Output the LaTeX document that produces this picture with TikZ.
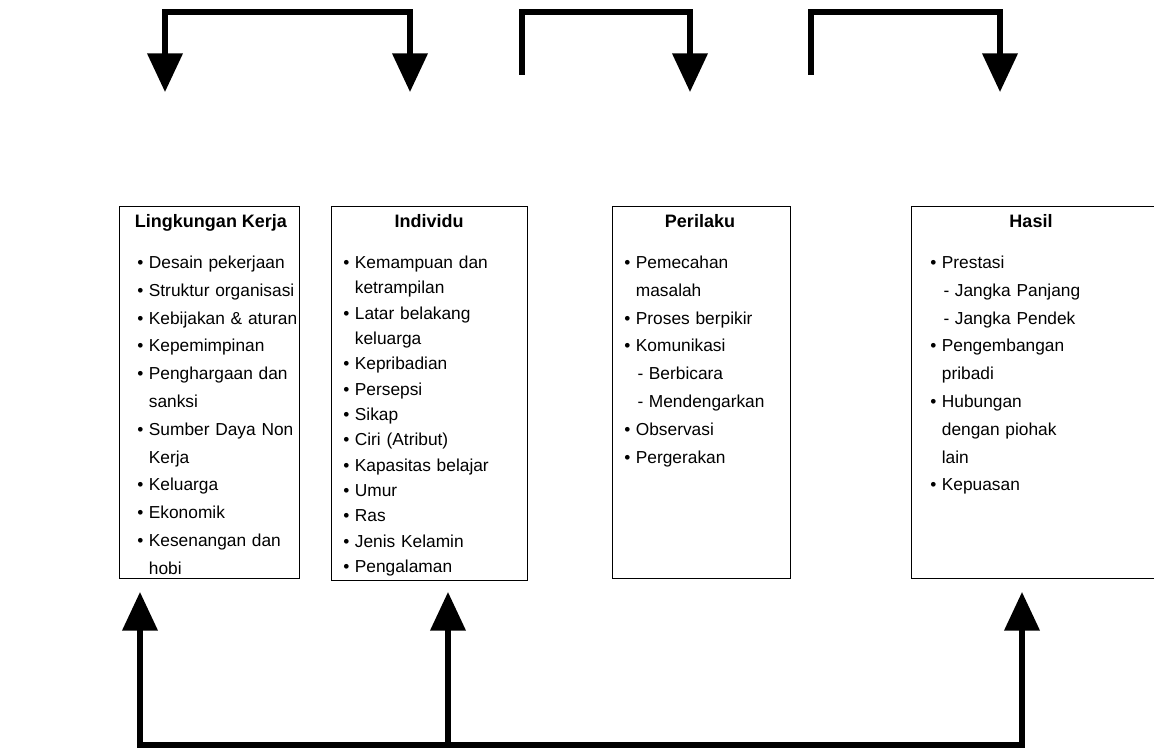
\documentclass[tikz,border=0pt]{standalone}
\usepackage{fontspec}
\setmainfont{Liberation Sans}
\usetikzlibrary{arrows.meta}
\newcommand\bul{\makebox[8.7pt][l]{\textbullet}}
\newcommand\ind{\hspace*{8.7pt}}
\newcommand\subi{\hspace*{10pt}-\hspace*{0.32em}}
\begin{document}
\begin{tikzpicture}[x=0.75pt,y=-0.75pt,
  box/.style={draw,line width=1.1pt,anchor=north west,inner sep=0pt,minimum height=279pt},
  ttl/.style={font=\bfseries\fontsize{13.5pt}{16pt}\selectfont,anchor=base,inner sep=0pt},
  lst/.style={anchor=north west,inner sep=0pt,align=left,text width=190pt},
  conn/.style={line width=3.8pt},
  arr/.style={-{Triangle[width=26pt,length=29pt]}},
  arrb/.style={{Triangle[width=26pt,length=29pt]}-{Triangle[width=26pt,length=29pt]}}
]
\clip (0,0) rectangle (1154,755);
% boxes
\node[box,minimum width=135pt] (b1) at (119,206) {};
\node[box,minimum width=147pt,minimum height=280.5pt] (b2) at (331,206) {};
\node[box,minimum width=133.5pt] (b3) at (612,206) {};
\node[box,minimum width=200pt] (b4) at (911,206) {};
% titles
\node[ttl] (h1) at (211,228) {Lingkungan Kerja};
\node[ttl] (h2) at (429,228) {Individu};
\node[ttl] (h3) at (700,228) {Perilaku};
\node[ttl] (h4) at (1031,228) {Hasil};
% lists
\node[lst,font=\fontsize{13pt}{20.85pt}\selectfont] (l1) at (137,255) {\rule{0pt}{10pt}\bul Desain pekerjaan\\
\bul Struktur organisasi\\
\bul Kebijakan \& aturan\\
\bul Kepemimpinan\\
\bul Penghargaan dan\\
\ind sanksi\\
\bul Sumber Daya Non\\
\ind Kerja\\
\bul Keluarga\\
\bul Ekonomik\\
\bul Kesenangan dan\\
\ind hobi};
\node[lst,font=\fontsize{13pt}{19pt}\selectfont] (l2) at (343,255) {\rule{0pt}{10pt}\bul Kemampuan dan\\
\ind ketrampilan\\
\bul Latar belakang\\
\ind keluarga\\
\bul Kepribadian\\
\bul Persepsi\\
\bul Sikap\\
\bul Ciri (Atribut)\\
\bul Kapasitas belajar\\
\bul Umur\\
\bul Ras\\
\bul Jenis Kelamin\\
\bul Pengalaman};
\node[lst,font=\fontsize{13pt}{20.85pt}\selectfont] (l3) at (624,255) {\rule{0pt}{10pt}\bul Pemecahan\\
\ind masalah\\
\bul Proses berpikir\\
\bul Komunikasi\\
\subi Berbicara\\
\subi Mendengarkan\\
\bul Observasi\\
\bul Pergerakan};
\node[lst,font=\fontsize{13pt}{20.85pt}\selectfont] (l4) at (930,255) {\rule{0pt}{10pt}\bul Prestasi\\
\subi Jangka Panjang\\
\subi Jangka Pendek\\
\bul Pengembangan\\
\ind pribadi\\
\bul Hubungan\\
\ind dengan piohak\\
\ind lain\\
\bul Kepuasan};
% top connectors
\coordinate (t1a) at (165,92);
\coordinate (t1b) at (410,92);
\draw[conn,arrb] (t1a) -- ++(0,-80) -| (t1b);
\coordinate (s2) at (522,75);
\coordinate (t2) at (690,92);
\draw[conn,arr] (s2) -- ++(0,-63) -| (t2);
\coordinate (s3) at (811,75);
\coordinate (t3) at (1000,92);
\draw[conn,arr] (s3) -- ++(0,-63) -| (t3);
% bottom connectors
\coordinate (u1) at (140,592);
\coordinate (u2) at (448,592);
\coordinate (u3) at (1022,592);
\coordinate (m2) at (448,745);
\draw[conn,arrb] (u1) -- ++(0,153) -| (u3);
\draw[conn,arr] (m2) -- (u2);
\end{tikzpicture}
\end{document}
